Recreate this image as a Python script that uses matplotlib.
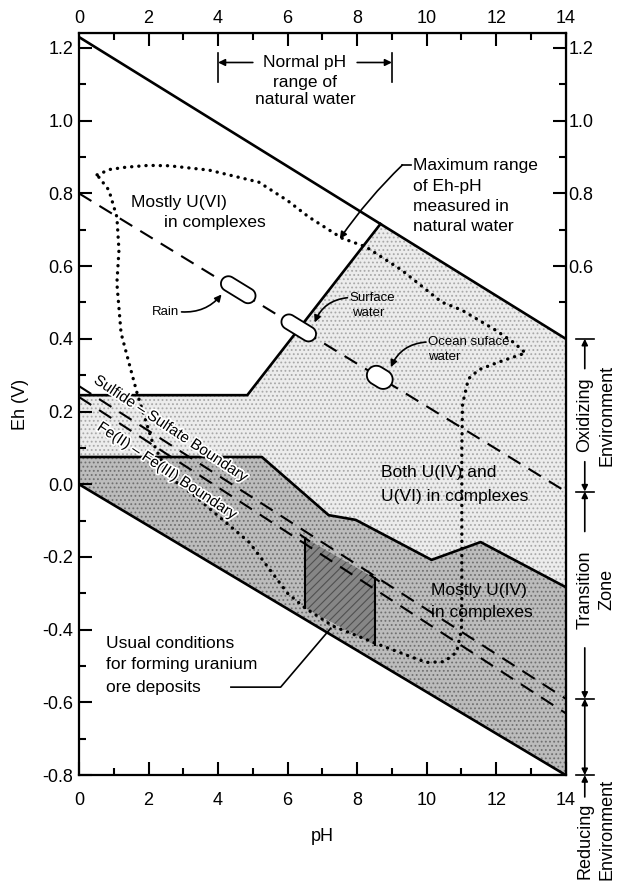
import numpy as np
import matplotlib
matplotlib.use('Agg')
import matplotlib.pyplot as plt
from matplotlib.patches import Polygon
import matplotlib.transforms as mtransforms
import matplotlib.patheffects as pe
from matplotlib.ticker import MultipleLocator, FuncFormatter, FixedLocator

plt.rcParams['font.family'] = ['Liberation Sans', 'DejaVu Sans']
plt.rcParams['axes.unicode_minus'] = False
plt.rcParams['hatch.linewidth'] = 0.8

# ---------------- data ----------------
ph_ticks = [0, 2, 4, 6, 8, 10, 12, 14]
eh_ticks = [-0.8, -0.6, -0.4, -0.2, 0.0, 0.2, 0.4, 0.6, 0.8, 1.0, 1.2]
right_label_min = 0.6

upper_water_ph = [0, 14]
upper_water_eh = [1.23, 0.40]
lower_water_ph = [0, 14]
lower_water_eh = [0.0, -0.80]
mid_dash_ph = [0, 14]
mid_dash_eh = [0.80, -0.02]
sulfide_ph = [0, 14]
sulfide_eh = [0.27, -0.59]
fe_ph = [0, 14]
fe_eh = [0.24, -0.63]

u6_ph = [0, 4.84, 8.67]
u6_eh = [0.245, 0.245, 0.716]
u4_ph = [0, 5.26, 7.18, 7.96, 10.14, 11.55, 14]
u4_eh = [0.075, 0.075, -0.085, -0.098, -0.208, -0.159, -0.283]

ore_ph = [6.5, 8.5]
ore_top = [-0.148, -0.258]
ore_bottom = [-0.34, -0.442]

maxrange_ph = [0.52, 0.9, 1.35, 2.0, 2.59, 3.74, 5.17, 6.0, 6.61, 7.56, 8.25, 9.28,
               10.43, 11.01, 11.98, 12.5, 12.84, 12.07, 11.5, 11.2, 11.03, 11.01,
               11.01, 11.01, 11.0, 10.86, 10.5, 10.0, 9.7, 8.6, 7.3, 6.5, 6.0, 4.9,
               3.3, 2.6, 2.1, 1.67, 1.44, 1.21, 1.09, 1.15, 1.09, 0.86, 0.52]
maxrange_eh = [0.851, 0.866, 0.872, 0.877, 0.876, 0.864, 0.831, 0.78, 0.735, 0.677,
               0.653, 0.589, 0.501, 0.479, 0.424, 0.39, 0.361, 0.336, 0.315, 0.29,
               0.22, 0.1, -0.1, -0.3, -0.40, -0.462, -0.488, -0.49, -0.48, -0.44,
               -0.39, -0.34, -0.30, -0.16, -0.03, 0.02, 0.12, 0.251, 0.333, 0.416,
               0.553, 0.644, 0.735, 0.809, 0.851]

samples = ['Rain', 'Surface water', 'Ocean surface water']
sample_ph = [4.58, 6.32, 8.65]
sample_eh = [0.535, 0.430, 0.294]

normal_ph_range = [4, 9]
env_bounds = [0.40, -0.02, -0.59, -0.80]

# ---------------- figure ----------------
fig = plt.figure(figsize=(6.17, 8.93), dpi=100)
ax = fig.add_axes([0.128, 0.132, 0.789, 0.831])
ax.set_xlim(0, 14)
ax.set_ylim(-0.8, 1.241)

# fills
light_poly = list(zip(u6_ph, u6_eh)) + [(upper_water_ph[1], upper_water_eh[1])] + \
    list(zip(u4_ph[::-1], u4_eh[::-1]))
ax.add_patch(Polygon(light_poly, closed=True, facecolor='#ececec', edgecolor='#a8a8a8',
                     hatch='....', linewidth=0, zorder=1))
med_poly = list(zip(u4_ph, u4_eh)) + [(lower_water_ph[1], lower_water_eh[1]),
                                      (lower_water_ph[0], lower_water_eh[0])]
ax.add_patch(Polygon(med_poly, closed=True, facecolor='#bcbcbc', edgecolor='#707070',
                     hatch='....', linewidth=0, zorder=1.1))
ore_poly = [(ore_ph[0], ore_top[0]), (ore_ph[1], ore_top[1]),
            (ore_ph[1], ore_bottom[1]), (ore_ph[0], ore_bottom[0])]
ax.add_patch(Polygon(ore_poly, closed=True, facecolor='#868686', edgecolor='#505050',
                     hatch='////', linewidth=0, zorder=1.2))

# lines
ax.plot(upper_water_ph, upper_water_eh, color='k', lw=1.9, zorder=3)
ax.plot(lower_water_ph, lower_water_eh, color='k', lw=1.9, zorder=3)
ax.plot(u6_ph, u6_eh, color='k', lw=1.9, zorder=3)
ax.plot(u4_ph, u4_eh, color='k', lw=1.9, zorder=3)
ax.plot(mid_dash_ph, mid_dash_eh, color='k', lw=1.5, dashes=(7, 4.5), zorder=3)
ax.plot(sulfide_ph, sulfide_eh, color='k', lw=1.5, dashes=(7, 4.5), zorder=3)
ax.plot(fe_ph, fe_eh, color='k', lw=1.5, dashes=(7, 4.5), zorder=3)
ax.plot(maxrange_ph, maxrange_eh, color='k', lw=2.4, linestyle=(0, (0.05, 2.1)),
        dash_capstyle='round', solid_capstyle='round', zorder=3.5)
# ore deposit verticals
for i in range(2):
    ax.plot([ore_ph[i], ore_ph[i]], [ore_top[i], ore_bottom[i]], color='k', lw=1.5, zorder=3)
    ax.plot([ore_ph[i] - 0.12, ore_ph[i] + 0.12], [ore_top[i] + 0.008, ore_top[i] - 0.008],
            color='k', lw=1.5, zorder=3)

# capsules along dashed line
def capsule(x, y, length, width, angle):
    r = width / 2.0
    L = length / 2.0 - r
    t1 = np.linspace(-np.pi / 2, np.pi / 2, 20)
    t2 = np.linspace(np.pi / 2, 3 * np.pi / 2, 20)
    pts = np.vstack([np.column_stack([L + r * np.cos(t1), r * np.sin(t1)]),
                     np.column_stack([-L + r * np.cos(t2), r * np.sin(t2)])])
    tr = mtransforms.Affine2D().rotate_deg(angle) + \
        mtransforms.ScaledTranslation(x, y, ax.transData)
    ax.add_patch(Polygon(pts, closed=True, facecolor='white', edgecolor='k', lw=1.3,
                         transform=tr, zorder=4))

capsule(sample_ph[0], sample_eh[0], 38, 15, -31.5)
capsule(sample_ph[1], sample_eh[1], 38, 15, -31.5)
capsule(sample_ph[2], sample_eh[2], 27, 19, -31.5)

# ---------------- ticks ----------------
ax.xaxis.set_major_locator(FixedLocator(ph_ticks))
ax.xaxis.set_minor_locator(MultipleLocator(1))
ax.yaxis.set_major_locator(FixedLocator(eh_ticks))
ax.yaxis.set_minor_locator(MultipleLocator(0.1))
ax.yaxis.set_major_formatter(FuncFormatter(lambda v, p: '%.1f' % v))
ax.tick_params(which='both', direction='in', top=False, right=False, width=1.5,
               labelsize=13)
ax.tick_params(which='major', length=9.5)
ax.tick_params(which='minor', length=5)
ax.tick_params(axis='x', pad=12)
ax.tick_params(axis='y', pad=4)
for s in ax.spines.values():
    s.set_linewidth(1.6)

secx = ax.secondary_xaxis('top')
secx.xaxis.set_major_locator(FixedLocator(ph_ticks))
secx.xaxis.set_minor_locator(MultipleLocator(1))
secx.tick_params(which='both', direction='in', width=1.5, labelsize=13, pad=4)
secx.tick_params(which='major', length=9.5)
secx.tick_params(which='minor', length=5)

secy = ax.secondary_yaxis('right')
secy.yaxis.set_major_locator(FixedLocator(eh_ticks))
secy.yaxis.set_minor_locator(MultipleLocator(0.1))
secy.yaxis.set_major_formatter(FuncFormatter(
    lambda v, p: ('%.1f' % v) if v >= right_label_min - 1e-9 else ''))
secy.tick_params(which='both', direction='in', width=1.5, labelsize=13, pad=2)
secy.tick_params(which='major', length=9.5)
secy.tick_params(which='minor', length=5)

ax.set_xlabel('pH', fontsize=13, labelpad=14)
ax.set_ylabel('Eh (V)', fontsize=13, labelpad=10)

# ---------------- annotations ----------------
fs = 12.5
ax.text(1.49, 0.774, 'Mostly U(VI)', fontsize=fs, va='center', ha='left', zorder=6)
ax.text(2.44, 0.719, 'in complexes', fontsize=fs, va='center', ha='left', zorder=6)
ax.text(8.68, 0.031, 'Both U(IV) and', fontsize=fs, va='center', ha='left', zorder=6)
ax.text(8.68, -0.035, 'U(VI) in complexes', fontsize=fs, va='center', ha='left', zorder=6)
ax.text(10.11, -0.291, 'Mostly U(IV)', fontsize=fs, va='center', ha='left', zorder=6)
ax.text(10.11, -0.354, 'in complexes', fontsize=fs, va='center', ha='left', zorder=6)
ax.text(0.78, -0.437, 'Usual conditions', fontsize=fs, va='center', ha='left', zorder=6)
ax.text(0.78, -0.497, 'for forming uranium', fontsize=fs, va='center', ha='left', zorder=6)
ax.text(0.78, -0.558, 'ore deposits', fontsize=fs, va='center', ha='left', zorder=6)
ax.plot([4.37, 5.80, 7.24], [-0.558, -0.558, -0.396], color='k', lw=1.2, zorder=5)

# Normal pH range
ax.text(6.5, 1.16, 'Normal pH', fontsize=fs, ha='center', va='center', zorder=6)
ax.text(6.5, 1.106, 'range of', fontsize=fs, ha='center', va='center', zorder=6)
ax.text(6.5, 1.057, 'natural water', fontsize=fs, ha='center', va='center', zorder=6)
for xb in normal_ph_range:
    ax.plot([xb, xb], [1.186, 1.106], color='k', lw=1.2, zorder=5)
ap = dict(arrowstyle='-|>', color='k', lw=1.2, shrinkA=0, shrinkB=0, mutation_scale=10)
ax.annotate('', xy=(normal_ph_range[0], 1.16), xytext=(5.0, 1.16), arrowprops=ap)
ax.annotate('', xy=(normal_ph_range[1], 1.16), xytext=(8.0, 1.16), arrowprops=ap)

# Maximum range
mx = 9.6
for i, (s, y) in enumerate([('Maximum range', 0.878), ('of Eh-pH', 0.818),
                            ('measured in', 0.763), ('natural water', 0.708)]):
    ax.text(mx, y, s, fontsize=fs, ha='left', va='center', zorder=6)
ax.plot([9.55, 9.3], [0.878, 0.878], color='k', lw=1.2, zorder=5)
ax.annotate('', xy=(7.5, 0.675), xytext=(9.3, 0.878),
            arrowprops=dict(ap, connectionstyle='arc3,rad=0.05'))

# sample labels
sfs = 9.5
ax.text(2.87, 0.474, 'Rain', fontsize=sfs, ha='right', va='center', zorder=6)
ax.annotate('', xy=(4.1, 0.522), xytext=(2.95, 0.474),
            arrowprops=dict(ap, connectionstyle='arc3,rad=0.25'))
ax.text(7.78, 0.513, 'Surface', fontsize=sfs, ha='left', va='center', zorder=6)
ax.text(7.84, 0.471, 'water', fontsize=sfs, ha='left', va='center', zorder=6)
ax.annotate('', xy=(6.78, 0.445), xytext=(7.72, 0.513),
            arrowprops=dict(ap, connectionstyle='arc3,rad=0.3'))
ax.text(10.05, 0.391, 'Ocean suface', fontsize=sfs, ha='left', va='center', zorder=6)
ax.text(10.05, 0.350, 'water', fontsize=sfs, ha='left', va='center', zorder=6)
ax.annotate('', xy=(8.97, 0.322), xytext=(9.98, 0.391),
            arrowprops=dict(ap, connectionstyle='arc3,rad=0.3'))

# boundary labels
ang = -33.5
halo = [pe.withStroke(linewidth=2.5, foreground='white')]
ax.text(2.64, 0.152, 'Sulfide \u2013 Sulfate Boundary', fontsize=11, rotation=ang,
        ha='center', va='center', rotation_mode='anchor', zorder=6, path_effects=halo)
ax.text(2.53, 0.036, 'Fe(II) \u2013 Fe(III) Boundary', fontsize=11, rotation=ang,
        ha='center', va='center', rotation_mode='anchor', zorder=6, path_effects=halo)

# ---------------- environment brackets at right ----------------
bt = mtransforms.blended_transform_factory(ax.transAxes, ax.transData)
xb = 1.039
xe = 1.084
hw = 0.018
for y in env_bounds:
    ax.plot([xb - hw, xb + hw], [y, y], color='k', lw=1.2, transform=bt, clip_on=False)
apb = dict(arrowstyle='-|>', color='k', lw=1.2, shrinkA=0, shrinkB=0, mutation_scale=9)

def env_label(text1, text2, ymid):
    ax.text(xb, ymid, text1, fontsize=13, rotation=90, ha='center', va='center',
            transform=bt, clip_on=False)
    ax.text(xe, ymid, text2, fontsize=13, rotation=90, ha='center', va='center',
            transform=bt, clip_on=False)

env_label('Oxidizing', 'Environment', 0.19)
ax.annotate('', xy=(xb, env_bounds[0]), xytext=(xb, 0.318), xycoords=bt, textcoords=bt,
            arrowprops=apb, annotation_clip=False)
ax.annotate('', xy=(xb, env_bounds[1]), xytext=(xb, 0.062), xycoords=bt, textcoords=bt,
            arrowprops=apb, annotation_clip=False)
env_label('Transition', 'Zone', -0.29)
ax.annotate('', xy=(xb, env_bounds[1]), xytext=(xb, -0.13), xycoords=bt, textcoords=bt,
            arrowprops=apb, annotation_clip=False)
ax.annotate('', xy=(xb, env_bounds[2]), xytext=(xb, -0.45), xycoords=bt, textcoords=bt,
            arrowprops=apb, annotation_clip=False)
ax.annotate('', xy=(xb, env_bounds[3]), xytext=(xb, env_bounds[2]), xycoords=bt,
            textcoords=bt, arrowprops=dict(apb, arrowstyle='<|-|>'), annotation_clip=False)
ax.annotate('', xy=(xb, env_bounds[3]), xytext=(xb, -0.86), xycoords=bt, textcoords=bt,
            arrowprops=apb, annotation_clip=False)
ax.text(xb, -0.875, 'Reducing', fontsize=13, rotation=90, ha='center', va='top',
        transform=bt, clip_on=False)
ax.text(xe, -0.81, 'Environment', fontsize=13, rotation=90, ha='center', va='top',
        transform=bt, clip_on=False)

fig.savefig('out.png', dpi=100)
